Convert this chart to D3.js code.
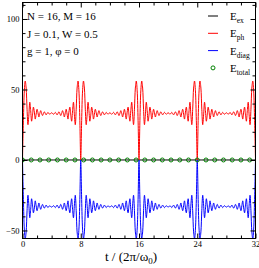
<!DOCTYPE html>
<html>
<head>
<meta charset="utf-8">
<script src="https://cdn.jsdelivr.net/npm/d3@7"></script>
<style>
  body { margin: 0; background: #fff; }
  text { font-family: "Liberation Serif", "Times New Roman", serif; fill: #000; }
</style>
</head>
<body>
<div id="chart"></div>
<script>

// one revival cycle (t = 0 .. 8, step 0.125); the plot shows it 4 times
var tStep = 0.125;
var cycleLength = 8;
var nCycles = 4;

var ePhCycle = [0, 28, 49, 56, 51, 36, 25, 32, 41, 35, 27.5, 32, 37.5, 34, 29, 32.5, 36, 33.5, 30.5, 33, 35, 33, 31.5, 33, 34.2, 33, 32, 33, 33.8, 33, 32.4, 33, 33.5,
  33, 32.4, 33, 33.8, 33, 32, 33, 34.2, 33, 31.5, 33, 35, 33, 30.5, 33.5, 36, 32.5, 29, 34, 37.5, 32, 27.5, 35, 41, 32, 25, 36, 51, 56, 49, 28, 0];

var eDiagCycle = [0, -28, -49, -56, -51, -36, -25, -32, -41, -35, -27.5, -32, -37.5, -34, -29, -32.5, -36, -33.5, -30.5, -33, -35, -33, -31.5, -33, -34.2, -33, -32, -33, -33.8, -33, -32.4, -33, -33.5,
  -33, -32.4, -33, -33.8, -33, -32, -33, -34.2, -33, -31.5, -33, -35, -33, -30.5, -33.5, -36, -32.5, -29, -34, -37.5, -32, -27.5, -35, -41, -32, -25, -36, -51, -56, -49, -28, 0];

// exchange energy stays at zero
var eExTimes = [0, 8, 16, 24, 32];
var eEx = [0, 0, 0, 0, 0];

// total energy markers
var totalTimes = [0, 1.2, 2.4, 3.6, 4.8, 6, 7.2, 8.4, 9.6, 10.8, 12, 13.2, 14.4, 15.6, 16.8, 18, 19.2, 20.4, 21.6, 22.8, 24, 25.2, 26.4, 27.6, 28.8, 30, 31.2];
var eTotal = [0, 0, 0, 0, 0, 0, 0, 0, 0, 0, 0, 0, 0, 0, 0, 0, 0, 0, 0, 0, 0, 0, 0, 0, 0, 0, 0];

var xTicks = [0, 8, 16, 24, 32];
var xMinorTicks = [2, 4, 6, 10, 12, 14, 18, 20, 22, 26, 28, 30];
var yTicks = [-50, 0, 50, 100];
var yMinorTicks = [-40, -30, -20, -10, 10, 20, 30, 40, 60, 70, 80, 90, 110];

var infoLines = ["N = 16, M = 16", "J = 0.1, W = 0.5", "g = 1, \u03c6 = 0"];
var legendItems = [
  {name: "E", sub: "ex", color: "#000000", kind: "line"},
  {name: "E", sub: "ph", color: "#ff0000", kind: "line"},
  {name: "E", sub: "diag", color: "#0000ff", kind: "line"},
  {name: "E", sub: "total", color: "#008000", kind: "circle"}
];

function init(){

  var W = 259, H = 268;
  var left = 22.5, right = 255.5, top = 2.5, bottom = 238.5;

  // build the time series from the repeated cycle
  var ph = [], diag = [];
  for (var k = 0; k < nCycles; k++) {
    for (var i = (k == 0 ? 0 : 1); i < ePhCycle.length; i++) {
      var t = k * cycleLength + i * tStep;
      ph.push({t: t, v: ePhCycle[i]});
      diag.push({t: t, v: eDiagCycle[i]});
    }
  }
  var ex = eExTimes.map(function(t, i){ return {t: t, v: eEx[i]}; });
  var total = totalTimes.map(function(t, i){ return {t: t, v: eTotal[i]}; });

  var xScale = d3.scaleLinear().domain([0, 32]).range([left, right]);
  var yScale = d3.scaleLinear().domain([-55.7, 111.7]).range([bottom, top]);

  var svg = d3.select("#chart")
              .append("svg")
              .attr("width", W)
              .attr("height", H);

  svg.append("clipPath")
     .attr("id", "plotclip")
     .append("rect")
       .attr("x", left)
       .attr("y", top)
       .attr("width", right - left)
       .attr("height", bottom - top);

  var line = d3.line()
      .x(function(d) { return xScale(d.t); })
      .y(function(d) { return yScale(d.v); })
      .curve(d3.curveCatmullRom);

  var plot = svg.append("g").attr("clip-path", "url(#plotclip)");

  plot.append("path").datum(ex)
      .attr("d", line).attr("fill", "none")
      .attr("stroke", "#000").attr("stroke-width", 1);

  plot.append("path").datum(ph)
      .attr("d", line).attr("fill", "none")
      .attr("stroke", "#ff0000").attr("stroke-width", 1);

  plot.append("path").datum(diag)
      .attr("d", line).attr("fill", "none")
      .attr("stroke", "#0000ff").attr("stroke-width", 1);

  plot.selectAll(".tot")
      .data(total)
      .enter()
      .append("circle")
        .attr("class", "tot")
        .attr("cx", function(d) { return xScale(d.t); })
        .attr("cy", function(d) { return yScale(d.v); })
        .attr("r", 2)
        .attr("fill", "none")
        .attr("stroke", "#008000")
        .attr("stroke-width", 1);

  //axes: ticks point inwards, mirrored on top and right
  var xMajor = d3.axisBottom(xScale).tickValues(xTicks).tickSizeInner(-5).tickSizeOuter(0).tickPadding(2);
  var xMinor = d3.axisBottom(xScale).tickValues(xMinorTicks).tickSizeInner(-3).tickSizeOuter(0).tickFormat("");
  var xMajorTop = d3.axisTop(xScale).tickValues(xTicks).tickSizeInner(-5).tickSizeOuter(0).tickFormat("");
  var xMinorTop = d3.axisTop(xScale).tickValues(xMinorTicks).tickSizeInner(-3).tickSizeOuter(0).tickFormat("");

  var yMajor = d3.axisLeft(yScale).tickValues(yTicks).tickSizeInner(-5).tickSizeOuter(0).tickPadding(3);
  var yMinor = d3.axisLeft(yScale).tickValues(yMinorTicks).tickSizeInner(-3).tickSizeOuter(0).tickFormat("");
  var yMajorRight = d3.axisRight(yScale).tickValues(yTicks).tickSizeInner(-5).tickSizeOuter(0).tickFormat("");
  var yMinorRight = d3.axisRight(yScale).tickValues(yMinorTicks).tickSizeInner(-3).tickSizeOuter(0).tickFormat("");

  var gx = svg.append("g").attr("transform", "translate(0," + bottom + ")");
  gx.call(xMajor); gx.append("g").call(xMinor);
  var gxt = svg.append("g").attr("transform", "translate(0," + top + ")");
  gxt.call(xMajorTop); gxt.append("g").call(xMinorTop);
  var gy = svg.append("g").attr("transform", "translate(" + left + ",0)");
  gy.call(yMajor); gy.append("g").call(yMinor);
  var gyr = svg.append("g").attr("transform", "translate(" + right + ",0)");
  gyr.call(yMajorRight); gyr.append("g").call(yMinorRight);

  svg.selectAll(".domain").remove();
  svg.selectAll(".tick line").attr("stroke", "#000").attr("stroke-width", 1);
  svg.selectAll(".tick text")
     .style("font-family", "'Liberation Serif', serif")
     .style("font-size", "8.5px")
     .attr("fill", "#000");

  // frame
  svg.append("rect")
     .attr("x", left).attr("y", top)
     .attr("width", right - left).attr("height", bottom - top)
     .attr("fill", "none").attr("stroke", "#000").attr("stroke-width", 1);

  // x axis title
  var xt = svg.append("text")
     .attr("x", 131).attr("y", 261)
     .attr("text-anchor", "middle")
     .style("font-size", "13px");
  xt.append("tspan").text("t / (2\u03c0/\u03c9");
  xt.append("tspan").attr("dy", 3).style("font-size", "9px").text("0");
  xt.append("tspan").attr("dy", -3).text(")");

  // parameter text
  svg.selectAll(".info")
     .data(infoLines)
     .enter()
     .append("text")
       .attr("class", "info")
       .attr("x", 27)
       .attr("y", function(d, i) { return 20 + i * 17.5; })
       .style("font-size", "11px")
       .text(function(d) { return d; });

  // legend
  var leg = svg.selectAll(".leg")
     .data(legendItems)
     .enter()
     .append("g")
       .attr("class", "leg")
       .attr("transform", function(d, i) { return "translate(0," + (20 + i * 17.3) + ")"; });

  leg.filter(function(d) { return d.kind == "line"; })
     .append("line")
       .attr("x1", 208).attr("x2", 218)
       .attr("y1", -4).attr("y2", -4)
       .attr("stroke", function(d) { return d.color; })
       .attr("stroke-width", 1);

  leg.filter(function(d) { return d.kind == "circle"; })
     .append("circle")
       .attr("cx", 213).attr("cy", -4).attr("r", 2)
       .attr("fill", "none")
       .attr("stroke", function(d) { return d.color; })
       .attr("stroke-width", 1);

  var lt = leg.append("text")
     .attr("x", 230)
     .style("font-size", "11px");
  lt.append("tspan").text(function(d) { return d.name; });
  lt.append("tspan").attr("dy", 3).style("font-size", "7.5px").text(function(d) { return d.sub; });

}

window.onload = init;
</script>
</body>
</html>
